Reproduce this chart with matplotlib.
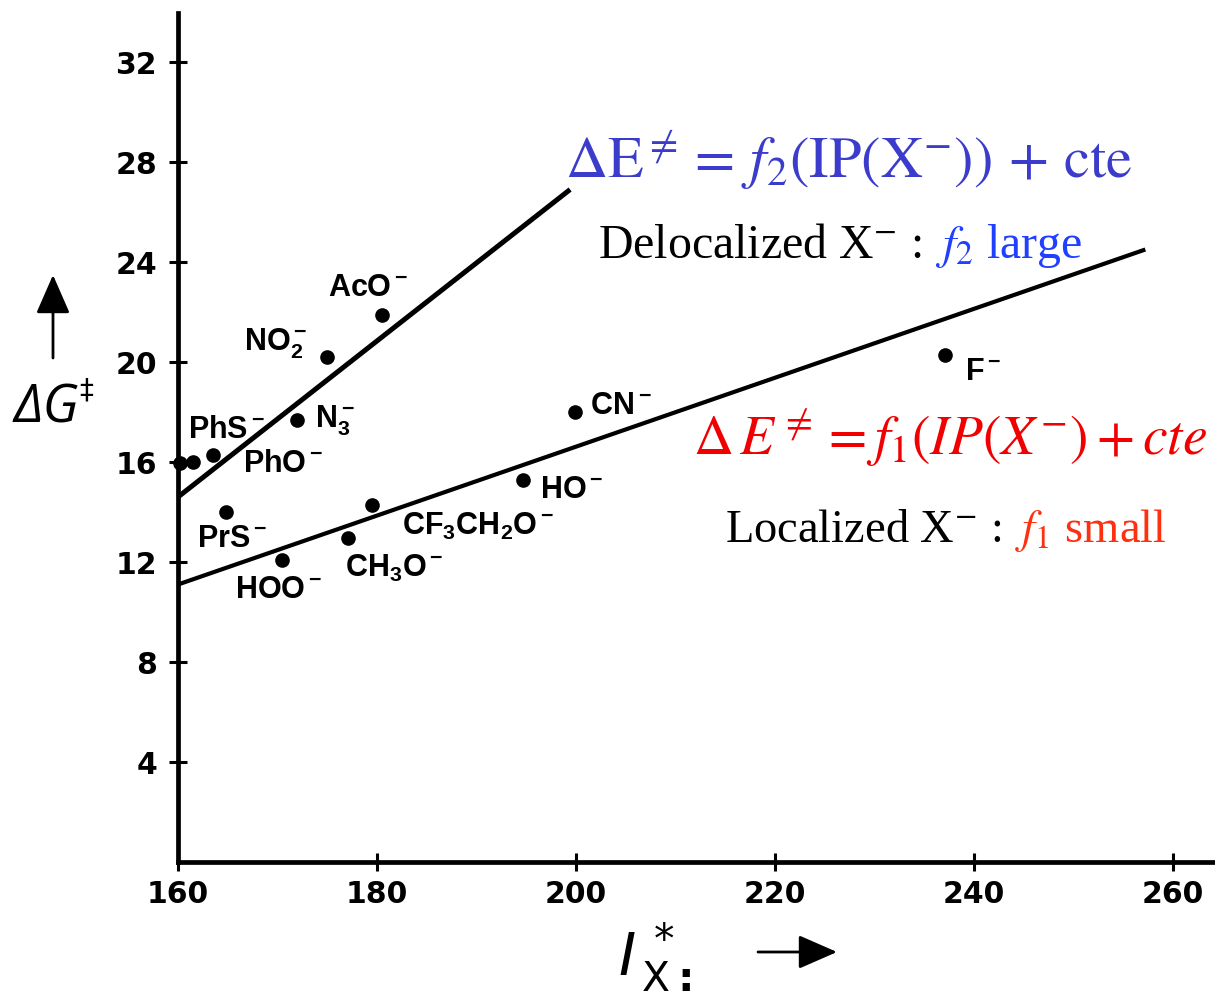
import matplotlib
matplotlib.use("Agg")
import matplotlib.pyplot as plt

W, H = 1215, 998

# ionization potential of X- (kcal/mol) vs activation barrier
ions = ["AcO$^-$", "NO$_2^-$", "N$_3^-$", "", "PhS$^-$", "PhO$^-$", "PrS$^-$",
        "HOO$^-$", "CH$_3$O$^-$", "CF$_3$CH$_2$O$^-$", "HO$^-$", "CN$^-$", "F$^-$"]
ip_x = [180.5, 175.0, 172.0, 160.2, 161.5, 163.5, 164.8,
        170.4, 177.1, 179.5, 194.7, 199.9, 237.1]
dg = [21.9, 20.2, 17.7, 15.95, 16.0, 16.3, 14.0,
      12.1, 12.95, 14.3, 15.3, 18.0, 20.3]

# the two correlation lines (end points)
deloc_x = [160.0, 199.4]
deloc_y = [14.6, 26.9]
loc_x = [160.0, 257.2]
loc_y = [11.1, 24.5]

xticks = [160, 180, 200, 220, 240, 260]
yticks = [4, 8, 12, 16, 20, 24, 28, 32]

# label offsets from their dot, in pixels (dx, dy up)
label_off = [(-54, 19), (-83, 7), (18, -8), (0, 0), (-5, 24), (30, -17), (-29, -35),
             (-47, -38), (-3, -39), (30, -30), (17, -18), (15, -2), (20, -25)]

plt.rcParams["mathtext.fontset"] = "custom"
plt.rcParams["mathtext.rm"] = "Liberation Sans:bold"
plt.rcParams["mathtext.it"] = "Liberation Sans:italic:bold"
plt.rcParams["mathtext.bf"] = "Liberation Sans:bold"

fig = plt.figure(figsize=(W / 100, H / 100), dpi=100)
ax = fig.add_axes([178 / W, 136 / H, 1 - 178 / W, (862 - 13) / H])
ax.set_xlim(160, 264.2)
ax.set_ylim(0, 33.96)

for s in ["top", "right"]:
    ax.spines[s].set_visible(False)
for s in ["left", "bottom"]:
    ax.spines[s].set_linewidth(3.4)

ax.set_xticks(xticks)
ax.set_yticks(yticks)
ax.tick_params(direction="inout", length=13, width=2.2, labelsize=21.5)
ax.tick_params(axis="y", pad=8.5)
ax.tick_params(axis="x", pad=6.5)
for lab in ax.get_xticklabels() + ax.get_yticklabels():
    lab.set_fontweight("bold")
    lab.set_family("DejaVu Sans")

ax.plot(deloc_x, deloc_y, color="black", lw=3.6, solid_capstyle="butt", clip_on=False)
ax.plot(loc_x, loc_y, color="black", lw=3.0, solid_capstyle="butt", clip_on=False)
ax.plot(ip_x, dg, "o", color="black", ms=9.5, clip_on=False)

for name, x, y, off in zip(ions, ip_x, dg, label_off):
    if not name:
        continue
    ax.annotate(name, (x, y), xytext=off, textcoords="offset pixels",
                ha="left", va="baseline", fontsize=22, fontweight="bold",
                family="Liberation Sans")


def ftext(px, py, s, **kw):
    fig.text(px / W, 1 - py / H, s, **kw)


serif = dict(family="Liberation Serif", math_fontfamily="stix", ha="left", va="baseline")

ftext(565, 178,
      r"$\Delta\mathrm{E}^{\neq} =\, f_2(\mathrm{IP}(\mathrm{X}^{-}))\, +\, \mathrm{cte}$",
      fontsize=42, color="#3b3bcc", **serif)
ftext(598, 258, r"Delocalized X$^{-}$ :", fontsize=34.5, color="black", **serif)
ftext(935, 258, r"$f_2$ large", fontsize=34.5, color="#2040ff", **serif)

ftext(693, 455, r"$\Delta\,E^{\neq} = f_1(IP(X^{-}) + cte$",
      fontsize=40, color="#f00000", **serif)
ftext(725, 542, r"Localized X$^{-}$ :", fontsize=33.5, color="black", **serif)
ftext(1015, 542, r"$f_1$ small", fontsize=33.5, color="#ff3010", **serif)

# y axis label with arrow
ftext(13, 423, "ΔG", fontsize=38, style="italic", family=["Open Sans", "DejaVu Sans"],
      ha="left", va="baseline")
ftext(79, 398, "‡", fontsize=20, family="DejaVu Sans", ha="left", va="baseline")
ax.annotate("", xy=(53 / W, 1 - 275 / H), xytext=(53 / W, 1 - 358 / H),
            xycoords="figure fraction", textcoords="figure fraction",
            arrowprops=dict(arrowstyle="-|>,head_length=0.8,head_width=0.35",
                            mutation_scale=30, lw=2, color="black",
                            shrinkA=0, shrinkB=0), annotation_clip=False)

# x axis label with arrow
ftext(618, 976, r"$I^{\,*}_{\,\mathrm{X}\mathbf{:}}$", fontsize=42,
      math_fontfamily="dejavusans", ha="left", va="baseline")
ax.annotate("", xy=(837 / W, 1 - 952 / H), xytext=(758 / W, 1 - 952 / H),
            xycoords="figure fraction", textcoords="figure fraction",
            arrowprops=dict(arrowstyle="-|>,head_length=0.8,head_width=0.35",
                            mutation_scale=30, lw=2, color="black",
                            shrinkA=0, shrinkB=0), annotation_clip=False)

fig.savefig("out.png", dpi=100, facecolor="white")
